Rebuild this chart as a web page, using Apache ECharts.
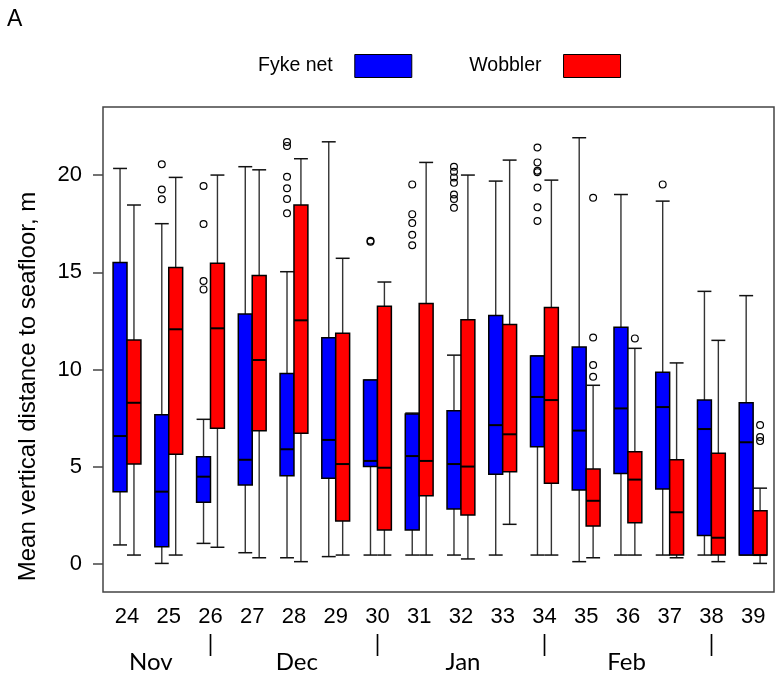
<!DOCTYPE html>
<html>
<head>
<meta charset="utf-8">
<script src="https://cdn.jsdelivr.net/npm/echarts@6/dist/echarts.min.js"></script>
<style>
  html, body { margin: 0; padding: 0; background: #fff; }
  #chart { width: 777px; height: 679px; }
</style>
</head>
<body>
<div id="chart"></div>
<script>
// Survey weeks on the x axis
const weeks = [24, 25, 26, 27, 28, 29, 30, 31, 32, 33, 34, 35, 36, 37, 38, 39];

// Fyke net: whisker ends, quartiles and medians per week (m above seafloor)
const fykeLow    = [0.98, 0.03, 1.06, 0.58, 0.32, 0.38, 0.46, 0.46, 0.46, 0.46, 0.46, 0.12, 0.46, 0.46, 0.46, 0.46];
const fykeQ1     = [3.72, 0.89, 3.17, 4.06, 4.54, 4.41, 5.01, 1.75, 2.83, 4.61, 6.03, 3.80, 4.66, 3.86, 1.47, 0.46];
const fykeMedian = [6.58, 3.72, 4.49, 5.36, 5.90, 6.38, 5.30, 5.55, 5.14, 7.14, 8.59, 6.86, 8.00, 8.07, 6.94, 6.26];
const fykeQ3     = [15.51, 7.68, 5.52, 12.85, 9.79, 11.63, 9.46, 7.71, 7.88, 12.78, 10.70, 11.16, 12.17, 9.86, 8.43, 8.29];
const fykeHigh   = [20.34, 17.50, 7.44, 20.43, 15.03, 21.71, 9.46, 7.76, 10.74, 19.69, 10.70, 21.92, 19.00, 18.66, 14.02, 13.80];

// Wobbler: whisker ends, quartiles and medians per week
const wobLow    = [0.46, 0.46, 0.86, 0.32, 0.12, 0.46, 0.46, 0.46, 0.26, 2.04, 0.46, 0.32, 0.46, 0.32, 0.12, 0.03];
const wobQ1     = [5.14, 5.64, 6.98, 6.85, 6.72, 2.21, 1.75, 3.51, 2.52, 4.75, 4.15, 1.95, 2.12, 0.46, 0.46, 0.46];
const wobMedian = [8.29, 12.07, 12.12, 10.49, 12.53, 5.14, 4.95, 5.30, 5.01, 6.67, 8.43, 3.25, 4.34, 2.66, 1.35, 0.46];
const wobQ3     = [11.52, 15.25, 15.46, 14.84, 18.46, 11.86, 13.26, 13.40, 12.56, 12.32, 13.19, 4.88, 5.77, 5.36, 5.69, 2.74];
const wobHigh   = [18.46, 19.88, 20.00, 20.27, 20.84, 15.72, 14.50, 20.65, 20.00, 20.77, 19.74, 9.19, 11.09, 10.34, 11.50, 3.90];

// Outlying observations as [week, value]
const fykeOutliers = [
  [25, 20.55], [25, 19.26], [25, 18.75],
  [26, 19.44], [26, 17.48], [26, 14.55], [26, 14.12],
  [28, 21.70], [28, 21.50], [28, 19.91], [28, 19.32], [28, 18.77], [28, 18.03],
  [30, 16.57], [30, 16.62],
  [31, 19.52], [31, 17.99], [31, 17.53], [31, 16.93], [31, 16.39],
  [32, 20.43], [32, 20.17], [32, 19.88], [32, 19.60], [32, 19.00], [32, 18.77], [32, 18.32],
  [34, 21.42], [34, 20.65], [34, 20.22], [34, 20.15], [34, 19.36], [34, 18.34], [34, 17.64],
  [37, 19.52]
];
const wobOutliers = [
  [35, 18.83], [35, 11.65], [35, 10.23], [35, 9.63],
  [36, 11.60],
  [39, 7.15], [39, 6.53], [39, 6.32]
];

// Tick labels
const yTicks = [0, 5, 10, 15, 20];
const monthBreaks = [26, 30, 34, 38];
const monthNames = ['Nov', 'Dec', 'Jan', 'Feb'];
const monthAt = [24.57, 28.07, 32.05, 35.97];

const FONT = "'Liberation Sans', Arial, sans-serif";
const MONTH_FONT = "Lato, 'Open Sans', sans-serif";
const FYKE_COLOR = '#0000ff';
const WOB_COLOR = '#ff0000';

function boxRows(low, q1, med, q3, high) {
  return weeks.map((w, i) => [w, low[i], q1[i], med[i], q3[i], high[i]]);
}

// Draws one box-and-whisker; side = -1 puts it left of the week, +1 right
function boxRenderer(side, fill) {
  return function (params, api) {
    const w = api.value(0);
    const lo = api.coord([w, api.value(1)]);
    const q1 = api.coord([w, api.value(2)]);
    const md = api.coord([w, api.value(3)]);
    const q3 = api.coord([w, api.value(4)]);
    const hi = api.coord([w, api.value(5)]);
    const bw = api.size([1, 0])[0] / 3;
    const cx = lo[0] + side * bw / 2;
    const x0 = cx - bw / 2, x1 = cx + bw / 2;
    const whisker = { stroke: '#333', lineWidth: 1.4 };
    const cap = { stroke: '#111', lineWidth: 1.5 };
    return {
      type: 'group',
      children: [
        { type: 'line', shape: { x1: cx, y1: hi[1], x2: cx, y2: q3[1] }, style: whisker },
        { type: 'line', shape: { x1: cx, y1: q1[1], x2: cx, y2: lo[1] }, style: whisker },
        { type: 'line', shape: { x1: x0, y1: hi[1], x2: x1, y2: hi[1] }, style: cap },
        { type: 'line', shape: { x1: x0, y1: lo[1], x2: x1, y2: lo[1] }, style: cap },
        { type: 'rect', shape: { x: x0, y: q3[1], width: bw, height: q1[1] - q3[1] },
          style: { fill: fill, stroke: '#000', lineWidth: 1.5 } },
        { type: 'line', shape: { x1: x0, y1: md[1], x2: x1, y2: md[1] },
          style: { stroke: '#000', lineWidth: 2 } }
      ]
    };
  };
}

function outlierRenderer(side) {
  return function (params, api) {
    const p = api.coord([api.value(0), api.value(1)]);
    const bw = api.size([1, 0])[0] / 3;
    return {
      type: 'circle',
      shape: { cx: p[0] + side * bw / 2, cy: p[1], r: 3.4 },
      style: { fill: 'none', stroke: '#000', lineWidth: 1.2 }
    };
  };
}

const baseX = {
  type: 'value',
  position: 'bottom',
  min: 23.425,
  max: 39.5,
  axisLine: { show: false },
  axisTick: { show: false },
  splitLine: { show: false }
};

const chart = echarts.init(document.getElementById('chart'), null, { renderer: 'canvas' });

chart.setOption({
  animation: false,
  backgroundColor: '#fff',
  textStyle: { fontFamily: FONT },
  title: {
    text: 'A',
    left: 7,
    top: 8,
    padding: 0,
    textStyle: { fontFamily: FONT, fontSize: 23, fontWeight: 'normal', color: '#000' }
  },
  legend: {
    left: 258,
    top: 54,
    padding: 0,
    align: 'right',
    itemWidth: 57,
    itemHeight: 23,
    itemGap: 57,
    selectedMode: false,
    textStyle: { fontFamily: FONT, fontSize: 19.5, color: '#000', padding: [0, 17, 0, 0] },
    data: [
      { name: 'Fyke net', icon: 'rect', itemStyle: { color: FYKE_COLOR, borderColor: '#000', borderWidth: 1 } },
      { name: 'Wobbler', icon: 'rect', itemStyle: { color: WOB_COLOR, borderColor: '#000', borderWidth: 1 } }
    ]
  },
  grid: {
    left: 103,
    right: 3,
    top: 107,
    bottom: 87,
    outerBoundsMode: 'none',
    containLabel: false,
    show: true,
    borderColor: '#444',
    borderWidth: 1.5,
    backgroundColor: 'transparent'
  },
  xAxis: [
    Object.assign({}, baseX, {
      axisLabel: {
        customValues: weeks,
        formatter: v => String(v),
        fontFamily: FONT, fontSize: 22, color: '#000', margin: 14
      }
    }),
    Object.assign({}, baseX, {
      offset: 32,
      axisLabel: {
        customValues: monthBreaks,
        formatter: () => '|',
        fontFamily: MONTH_FONT, fontSize: 24, color: '#000', margin: 8
      }
    }),
    Object.assign({}, baseX, {
      offset: 50,
      axisLabel: {
        customValues: monthAt,
        formatter: v => monthNames[monthAt.indexOf(v)] || '',
        fontFamily: MONTH_FONT, fontSize: 24, color: '#000', margin: 8
      }
    })
  ],
  yAxis: {
    type: 'value',
    min: -1.44,
    max: 23.5,
    name: 'Mean vertical distance to seafloor, m',
    nameLocation: 'middle',
    nameGap: 63,
    nameTextStyle: { fontFamily: FONT, fontSize: 24, color: '#000', padding: [0, 74, 0, 0] },
    axisLine: { show: false },
    splitLine: { show: false },
    axisTick: {
      show: true,
      customValues: yTicks,
      length: 10,
      lineStyle: { color: '#444', width: 1.5 }
    },
    axisLabel: {
      customValues: yTicks,
      fontFamily: FONT, fontSize: 22, color: '#000', margin: 21
    }
  },
  series: [
    {
      name: 'Fyke net',
      type: 'custom',
      xAxisIndex: 0,
      itemStyle: { color: FYKE_COLOR, borderColor: '#000', borderWidth: 1 },
      encode: { x: 0, y: [1, 2, 3, 4, 5] },
      renderItem: boxRenderer(-1, FYKE_COLOR),
      data: boxRows(fykeLow, fykeQ1, fykeMedian, fykeQ3, fykeHigh)
    },
    {
      name: 'Wobbler',
      type: 'custom',
      xAxisIndex: 0,
      itemStyle: { color: WOB_COLOR, borderColor: '#000', borderWidth: 1 },
      encode: { x: 0, y: [1, 2, 3, 4, 5] },
      renderItem: boxRenderer(1, WOB_COLOR),
      data: boxRows(wobLow, wobQ1, wobMedian, wobQ3, wobHigh)
    },
    {
      name: 'Fyke net outliers',
      type: 'custom',
      xAxisIndex: 0,
      encode: { x: 0, y: 1 },
      renderItem: outlierRenderer(-1),
      data: fykeOutliers
    },
    {
      name: 'Wobbler outliers',
      type: 'custom',
      xAxisIndex: 0,
      encode: { x: 0, y: 1 },
      renderItem: outlierRenderer(1),
      data: wobOutliers
    }
  ]
});
</script>
</body>
</html>
